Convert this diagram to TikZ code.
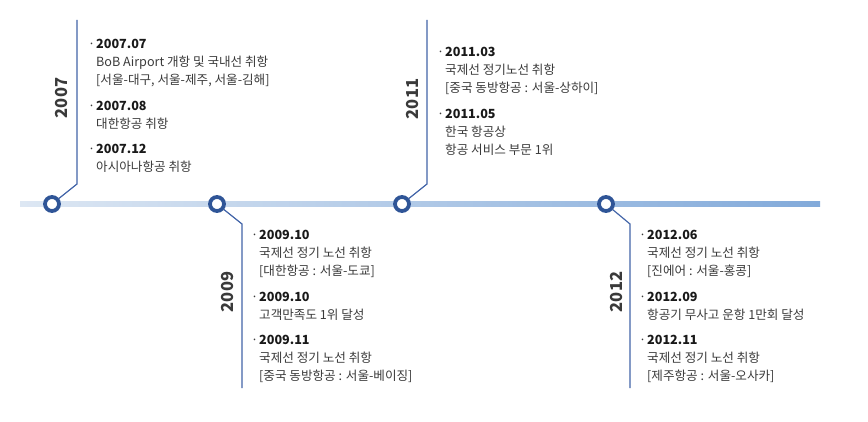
\documentclass[tikz,border=0pt]{standalone}
\usepackage{fontspec}
\setmainfont{Noto Sans CJK KR}
\usetikzlibrary{positioning}
\usetikzlibrary{calc}

\definecolor{ringblue}{HTML}{2F5597}
\definecolor{linkblue}{HTML}{4264A8}
\definecolor{barlight}{HTML}{DDE7F3}
\definecolor{bardark}{HTML}{82AADA}
\definecolor{bodygray}{HTML}{3A3A3A}

% 날짜 한 줄과 설명 한 줄
\newcommand{\dt}[1]{\makebox[8pt][l]{·}\textbf{\color{black!90}#1}}
\newcommand{\tx}[1]{\hspace*{8pt}#1}

\tikzset{
  dot/.style={circle, draw=ringblue, line width=3.8pt, fill=white, minimum size=14pt, inner sep=0pt},
  conn/.style={draw=linkblue, line width=1.2pt},
  year/.style={rotate=90, font=\fontsize{16.5}{16.5}\selectfont\bfseries, text=bodygray},
  events/.style={anchor=north west, inner sep=0pt, align=left, text=bodygray,
    font=\fontsize{12.6}{18}\selectfont}
}

\begin{document}
\begin{tikzpicture}[x=1pt, y=-1pt]
            \useasboundingbox (0,0) rectangle (868,422);

            % 가로 타임라인
            \shade[left color=barlight, right color=bardark] (20,201.5) rectangle (820,206.5);

            % 연도별 원
            \node[dot] (c07) at (52,204) {};
            \node[dot] (c09) at (217,204) {};
            \node[dot] (c11) at (402,204) {};
            \node[dot] (c12) at (606,204) {};

            % 꺾인 연결선
            \coordinate (e07) at (77,184);
            \coordinate (t07) at (77,20);
            \coordinate (e09) at (242,224);
            \coordinate (t09) at (242,388);
            \coordinate (e11) at (427,184);
            \coordinate (t11) at (427,20);
            \coordinate (e12) at (630,224);
            \coordinate (t12) at (630,388);
            \draw[conn] (c07) -- (e07) -- (t07);
            \draw[conn] (c09) -- (e09) -- (t09);
            \draw[conn] (c11) -- (e11) -- (t11);
            \draw[conn] (c12) -- (e12) -- (t12);

            % 연도
            \node[year] (y07) at (62,98) {2007};
            \node[year] (y09) at (228,292) {2009};
            \node[year] (y11) at (413,99) {2011};
            \node[year] (y12) at (617,292) {2012};

            % 내용
            \node[events] (n07) at (88,39) {\dt{2007.07}\\ \tx{BoB Airport 개항 및 국내선 취항}\\ \tx{[서울-대구, 서울-제주, 서울-김해]}\\[7.5pt]
              \dt{2007.08}\\ \tx{대한항공 취항}\\[7.5pt]
              \dt{2007.12}\\ \tx{아시아나항공 취항}};
            \node[events] (n11) at (437,47) {\dt{2011.03}\\ \tx{국제선 정기노선 취항}\\ \tx{[중국 동방항공 : 서울-상하이]}\\[7.5pt]
              \dt{2011.05}\\ \tx{한국 항공상}\\ \tx{항공 서비스 부문 1위}};
            \node[events] (n09) at (251,230) {\dt{2009.10}\\ \tx{국제선 정기 노선 취항}\\ \tx{[대한항공 : 서울-도쿄]}\\[7.5pt]
              \dt{2009.10}\\ \tx{고객만족도 1위 달성}\\[7.5pt]
              \dt{2009.11}\\ \tx{국제선 정기 노선 취항}\\ \tx{[중국 동방항공 : 서울-베이징]}};
            \node[events] (n12) at (639,230) {\dt{2012.06}\\ \tx{국제선 정기 노선 취항}\\ \tx{[진에어 : 서울-홍콩]}\\[7.5pt]
              \dt{2012.09}\\ \tx{항공기 무사고 운항 1만회 달성}\\[7.5pt]
              \dt{2012.11}\\ \tx{국제선 정기 노선 취항}\\ \tx{[제주항공 : 서울-오사카]}};
        \end{tikzpicture}
\end{document}
